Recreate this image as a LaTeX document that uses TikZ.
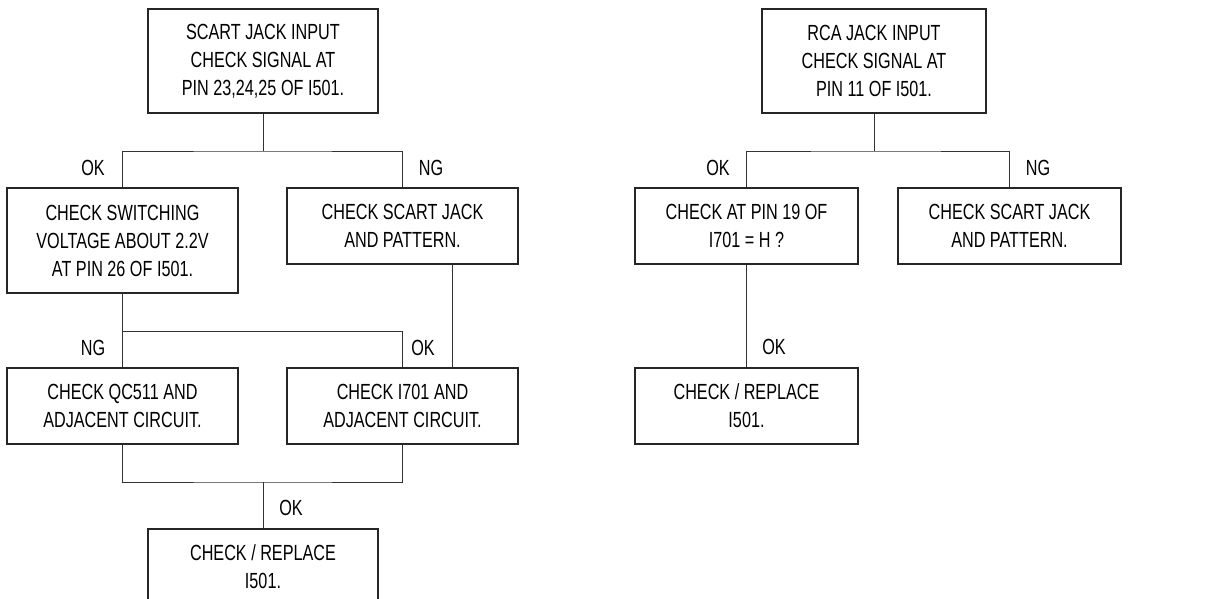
\documentclass[tikz,border=0pt]{standalone}
\usepackage{fontspec}
\setmainfont{Liberation Sans}[FakeStretch=0.74]
\begin{document}
\begin{tikzpicture}[x=1pt,y=-1pt,
  box/.style={draw=black!85,line width=1.1pt,rectangle,align=center,inner sep=0pt,
    font=\fontsize{21.9}{28}\selectfont},
  wbox/.style={box,minimum width=231pt,minimum height=76pt},
  nbox/.style={box,minimum width=223pt,minimum height=76pt},
  lab/.style={font=\fontsize{21.9}{28}\selectfont,inner sep=0pt},
  conn/.style={draw=black!80,line width=0.9pt}]
\clip (0,0) rectangle (1219,598);
\fill[white] (0,0) rectangle (1219,598);
% left tree
\node[box,minimum width=230pt,minimum height=104pt] (top) at (263,61) {SCART JACK INPUT\\CHECK SIGNAL AT\\PIN 23,24,25 OF I501.};
\node[wbox,minimum height=105pt] (sw) at (122.5,240.5) {CHECK SWITCHING\\VOLTAGE ABOUT 2.2V\\AT PIN 26 OF I501.};
\node[wbox] (sc) at (402.5,226) {CHECK SCART JACK\\AND PATTERN.};
\node[wbox] (qc) at (122.5,406) {CHECK QC511 AND\\ADJACENT CIRCUIT.};
\node[wbox] (i7) at (402.5,406) {CHECK I701 AND\\ADJACENT CIRCUIT.};
\node[box,minimum width=230pt,minimum height=76pt] (rep) at (263,567) {CHECK / REPLACE\\I501.};
\coordinate (j1) at (263,151);
\coordinate (j2) at (122.5,331);
\coordinate (j3) at (263,482);
\draw[conn] (top.south) -- (j1);
\draw[conn] (sw.north) |- (j1) -| (sc.north);
\draw[conn] (sw.south) -- (qc.north);
\draw[conn] (j2) -| (i7.north);
\draw[conn] ([xshift=50pt]sc.south) -- ([xshift=50pt]i7.north);
\draw[conn] (qc.south) |- (j3) -| (i7.south);
\draw[conn] (j3) -- (rep.north);
\node[lab] (l1) at (93,168) {OK};
\node[lab] (l2) at (431,168) {NG};
\node[lab] (l3) at (93,348) {NG};
\node[lab] (l4) at (423,348) {OK};
\node[lab] (l5) at (291,508) {OK};
% right tree
\node[box,minimum width=224pt,minimum height=104pt] (rca) at (874,61) {RCA JACK INPUT\\CHECK SIGNAL AT\\PIN 11 OF I501.};
\node[nbox] (p19) at (746.5,226) {CHECK AT PIN 19 OF\\I701 = H ?};
\node[nbox] (sc2) at (1009.5,226) {CHECK SCART JACK\\AND PATTERN.};
\node[nbox] (rep2) at (746.5,406) {CHECK / REPLACE\\I501.};
\coordinate (k1) at (874,151);
\draw[conn] (rca.south) -- (k1);
\draw[conn] (p19.north) |- (k1) -| (sc2.north);
\draw[conn] (p19.south) -- (rep2.north);
\node[lab] (r1) at (718,168) {OK};
\node[lab] (r2) at (1038,168) {NG};
\node[lab] (r3) at (774,347) {OK};
\end{tikzpicture}
\end{document}
